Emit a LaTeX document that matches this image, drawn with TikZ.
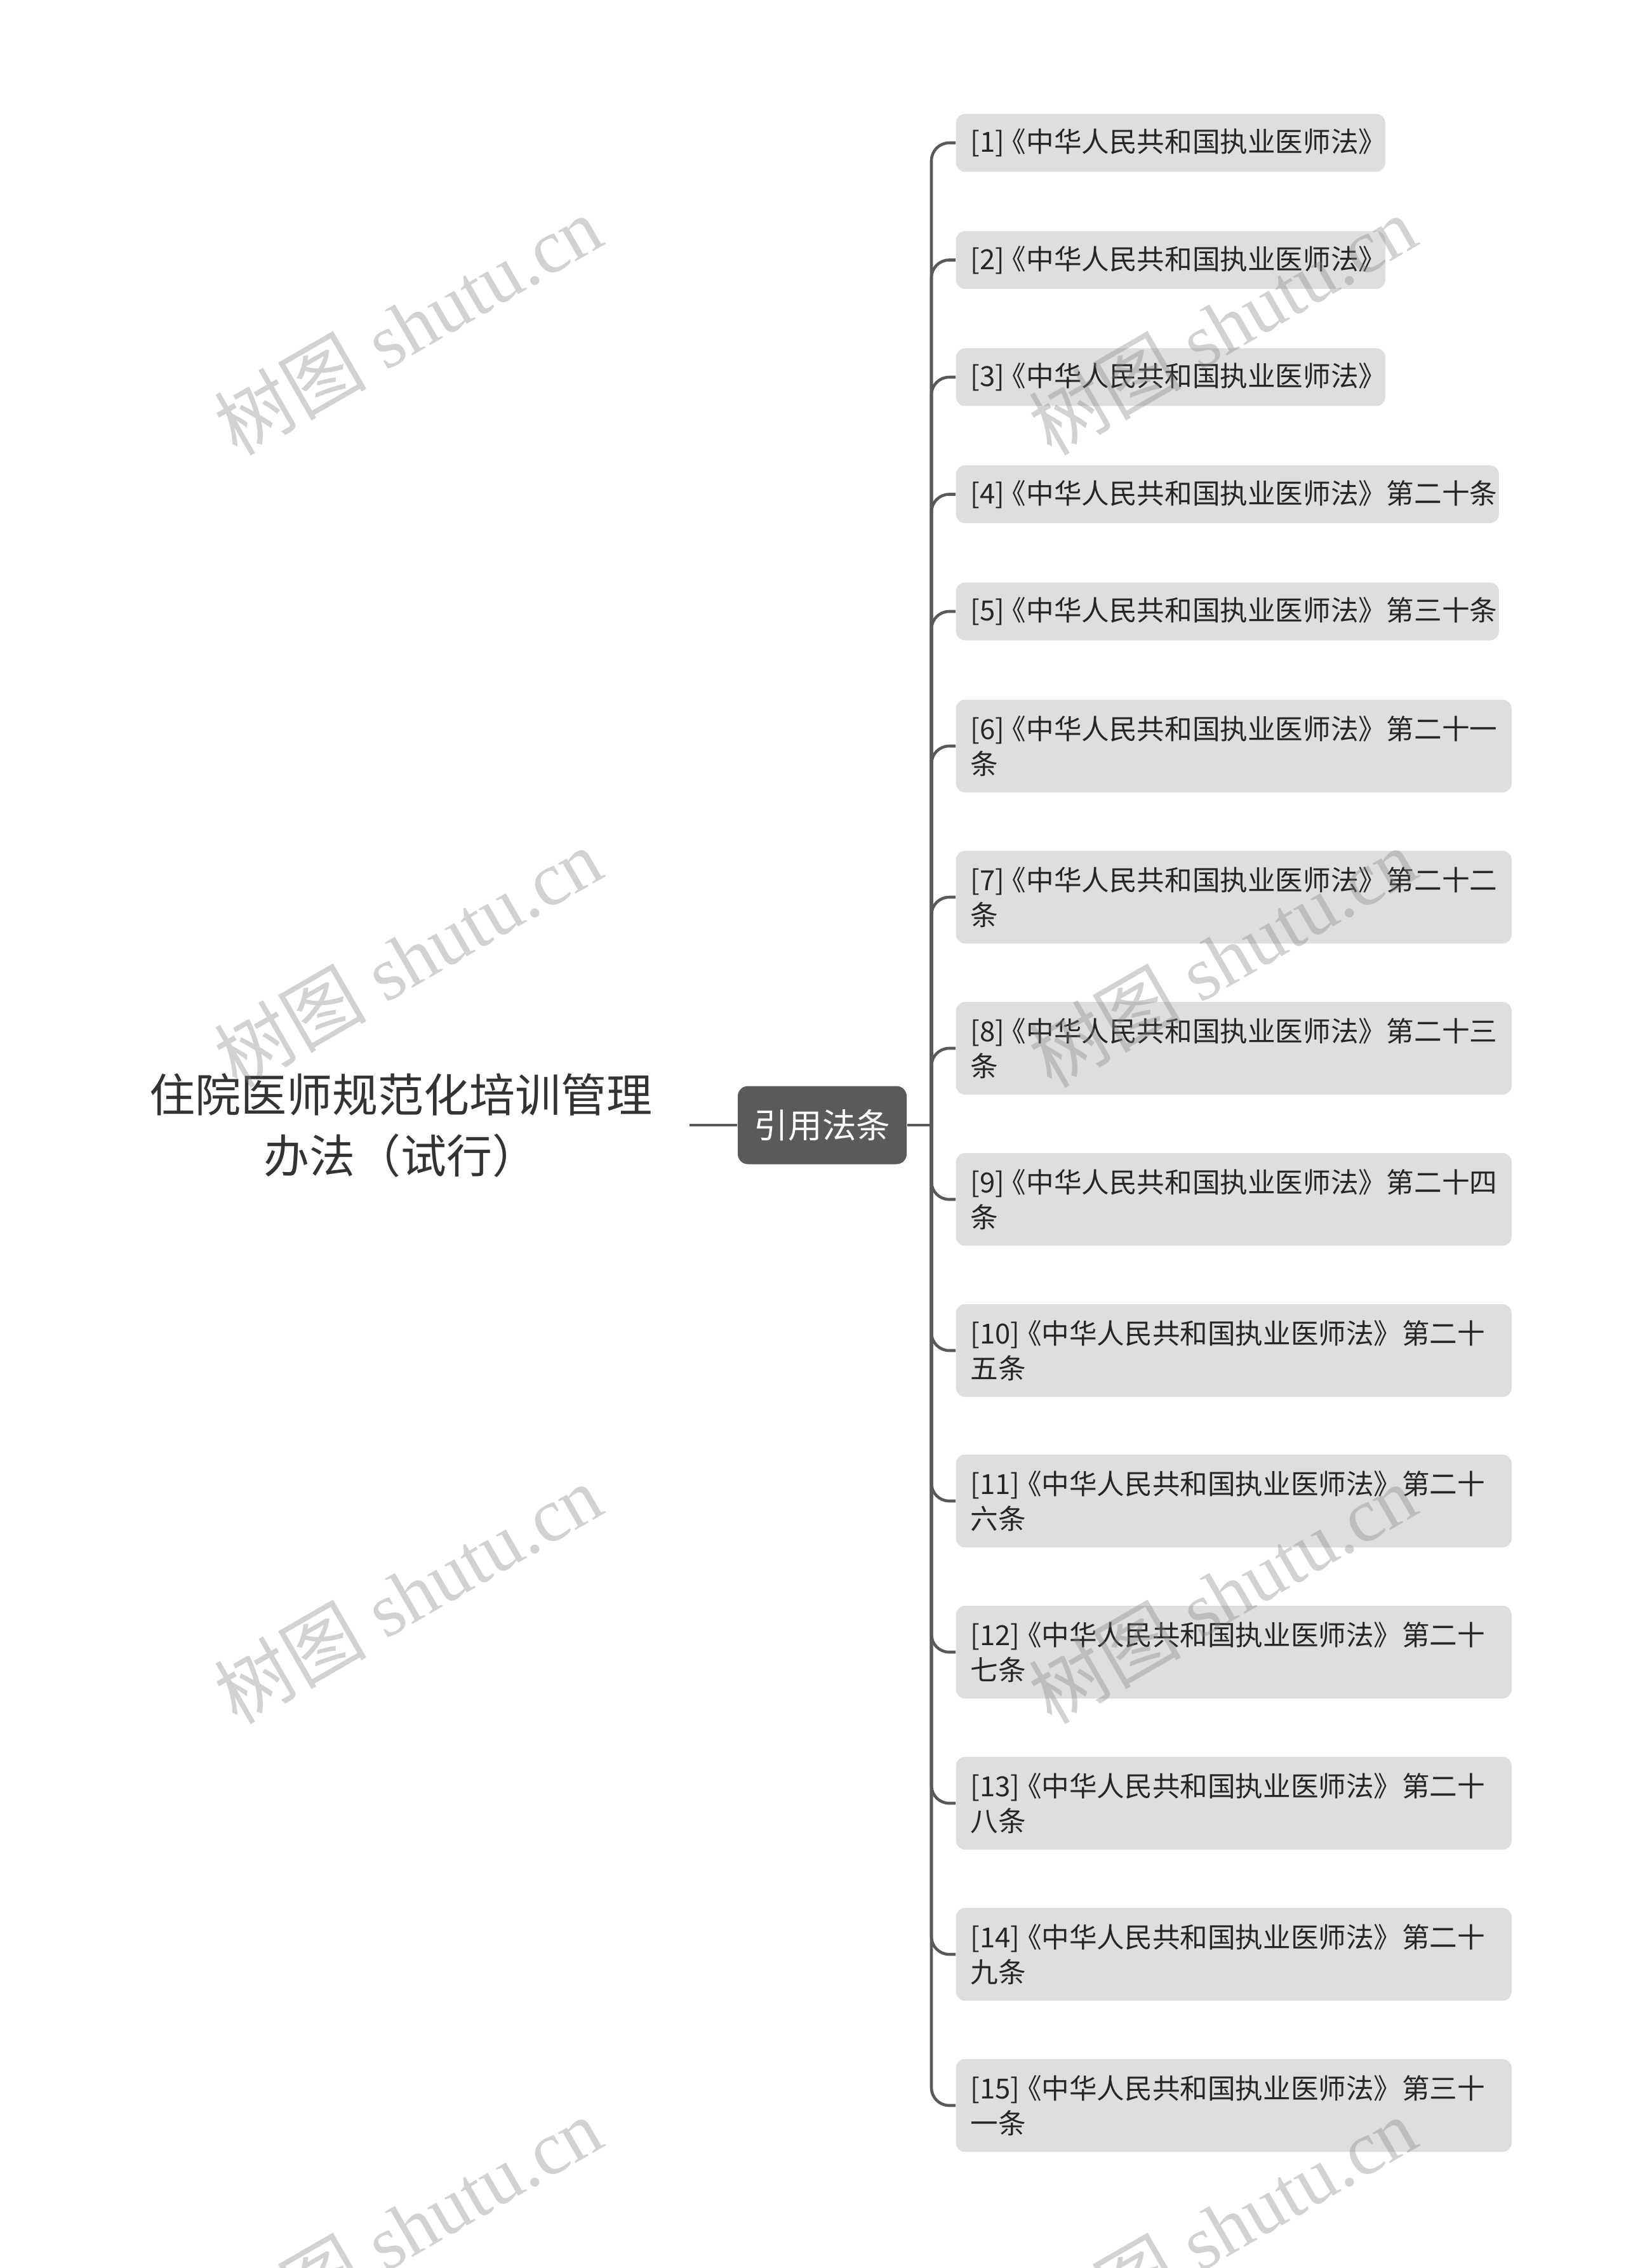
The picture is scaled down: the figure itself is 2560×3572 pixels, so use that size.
\documentclass[tikz,border=0pt]{standalone}
\usepackage{fontspec}
\setmainfont{Noto Sans CJK SC}
\newfontfamily\cjkfont{Noto Sans CJK SC}
\newfontfamily\wmlatin{Liberation Serif}
\definecolor{linec}{HTML}{595959}
\definecolor{boxc}{HTML}{DEDEDE}
\definecolor{darkc}{HTML}{5A5A5A}
\definecolor{textc}{HTML}{262626}
\definecolor{rootc}{HTML}{333333}
\definecolor{wmc}{HTML}{858585}
\newcommand{\lbk}{\kern-0.22em《}
\newcommand{\rbk}{》\kern-0.32em}
\newcommand{\lawname}{\lbk 中华人民共和国执业医师法\rbk}
\begin{document}
\begin{tikzpicture}[x=0.25pt,y=-0.25pt,
  leaf/.style={anchor=west, fill=boxc, rounded corners=3.5pt, text=textc,
    font=\fontsize{10.9}{13.75}\selectfont, align=left, inner xsep=5.75pt, inner ysep=0pt},
  shortleaf/.style={leaf, minimum height=22.75pt, text width=157.5pt},
  midleaf/.style={leaf, minimum height=22.75pt, text width=202.25pt},
  longleaf/.style={leaf, minimum height=36.5pt, text width=207.25pt},
  conn/.style={draw=linec, line width=1.15pt, rounded corners=7pt},
  wm/.style={rotate=30, text=wmc, opacity=0.36, font=\fontsize{30}{34}\selectfont, inner sep=0pt}]
\useasboundingbox[fill=white] (0,0) rectangle (2560,3572);

% root
\node[text=rootc, font=\fontsize{18}{24}\selectfont, align=center, text width=227.5pt, inner sep=0pt]
  (root) at (631,1772) {住院医师规范化培训管理\\办法（试行）};
% hub
\node[fill=darkc, text=white, rounded corners=4pt, minimum width=66.5pt, minimum height=30.75pt,
  inner sep=0pt, font=\fontsize{13.4}{16}\selectfont] (cite) at (1295,1772) {引用法条};
\coordinate (jn) at (1467,1772);

% leaves
\node[shortleaf] (b1) at (1505,225) {[1]\lawname};
\node[shortleaf] (b2) at (1505,409.5) {[2]\lawname};
\node[shortleaf] (b3) at (1505,594) {[3]\lawname};
\node[midleaf] (b4) at (1505,778.5) {[4]\lawname~第二十条};
\node[midleaf] (b5) at (1505,963) {[5]\lawname~第三十条};
\node[longleaf] (b6) at (1505,1175) {[6]\lawname~第二十一\\条};
\node[longleaf] (b7) at (1505,1413) {[7]\lawname~第二十二\\条};
\node[longleaf] (b8) at (1505,1651) {[8]\lawname~第二十三\\条};
\node[longleaf] (b9) at (1505,1889) {[9]\lawname~第二十四\\条};
\node[longleaf] (b10) at (1505,2127) {[10]\lawname~第二十\\五条};
\node[longleaf] (b11) at (1505,2364) {[11]\lawname~第二十\\六条};
\node[longleaf] (b12) at (1505,2602) {[12]\lawname~第二十\\七条};
\node[longleaf] (b13) at (1505,2840) {[13]\lawname~第二十\\八条};
\node[longleaf] (b14) at (1505,3078) {[14]\lawname~第二十\\九条};
\node[longleaf] (b15) at (1505,3316) {[15]\lawname~第三十\\一条};

% connectors
\draw[conn] (1086,1772) -- (cite.west);
\draw[conn] (cite.east) -- (jn);
\foreach \i in {1,...,15} {
  \draw[conn] (jn) |- (b\i.west);
}

% watermarks
\foreach \x in {642,1925} {
  \foreach \y in {512,1508,2510,3507} {
    \node[wm] at (\x,\y) {\cjkfont 树图\wmlatin\ shutu.cn};
  }
}
\end{tikzpicture}
\end{document}
